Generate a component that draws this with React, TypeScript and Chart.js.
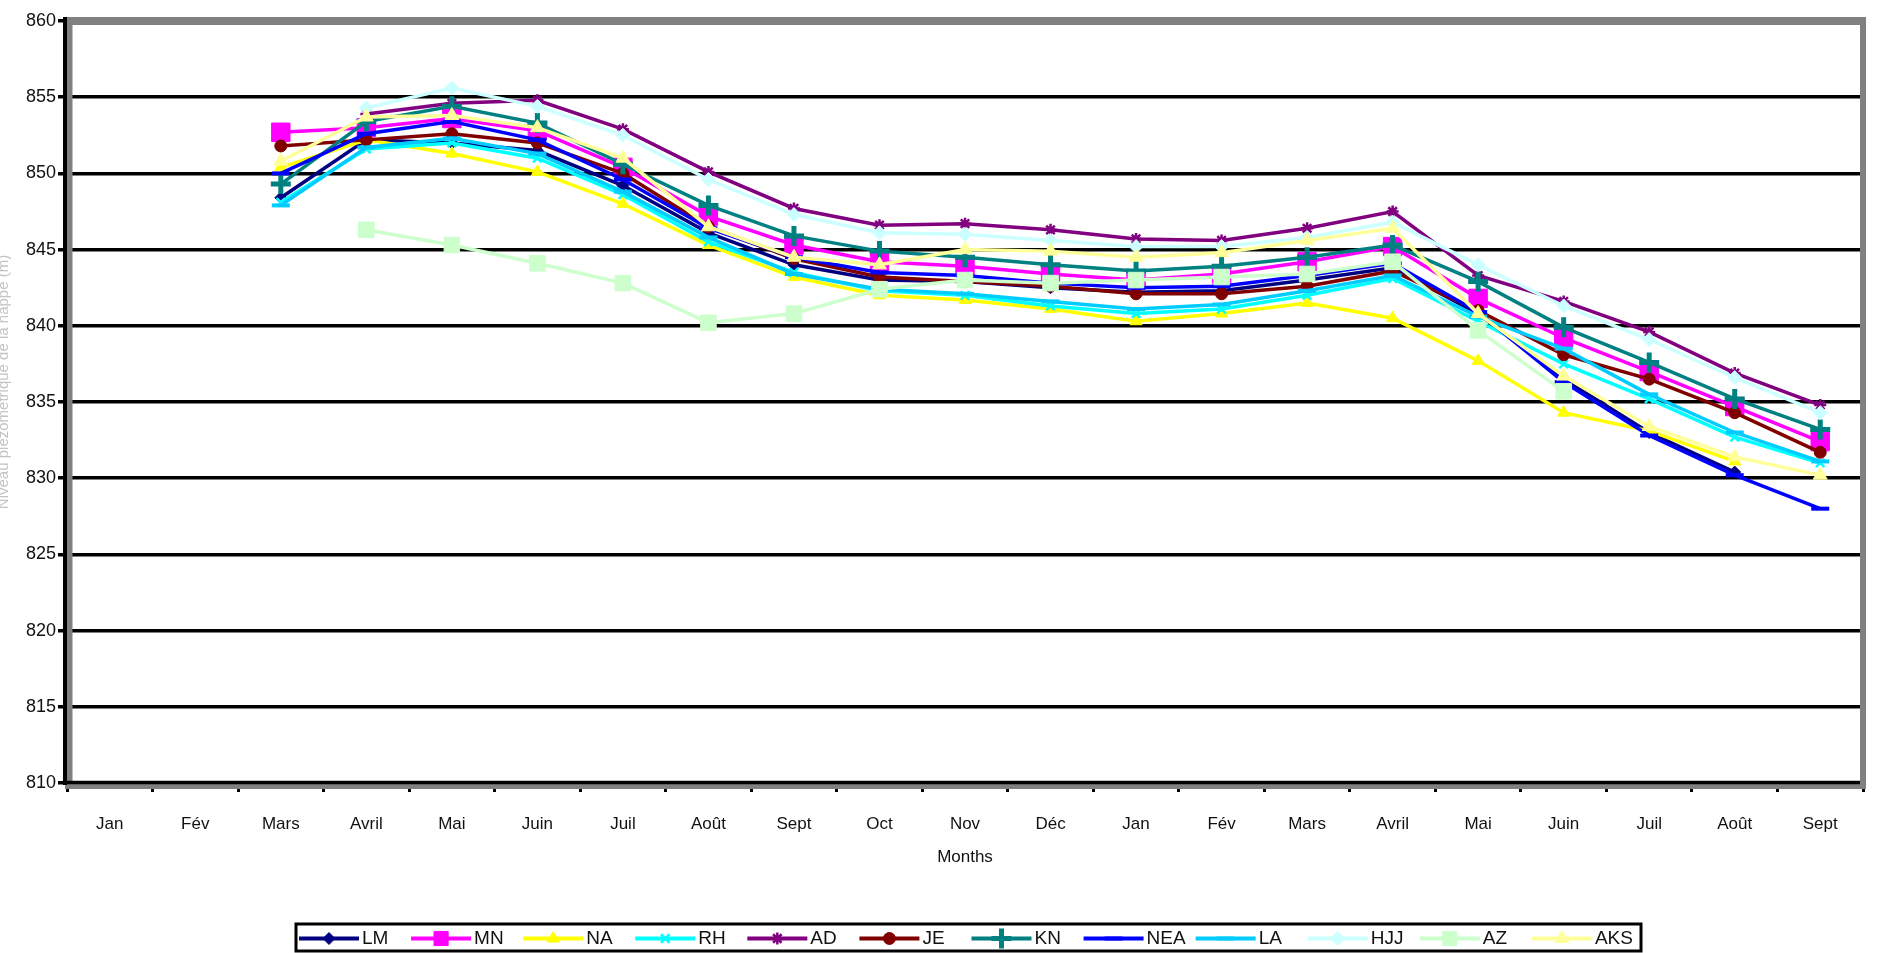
import React, { useEffect, useRef } from "react";
import { Chart, registerables } from "chart.js";
import { drawPoint } from "chart.js/helpers";

Chart.register(...registerables);

const months = ["Jan", "Fév", "Mars", "Avril", "Mai", "Juin", "Juil", "Août", "Sept", "Oct", "Nov", "Déc", "Jan", "Fév", "Mars", "Avril", "Mai", "Juin", "Juil", "Août", "Sept"];

const seriesNames = ["LM", "MN", "NA", "RH", "AD", "JE", "KN", "NEA", "LA", "HJJ", "AZ", "AKS"];

const LM = [null, null, 848.4, 852.2, 852.0, 851.5, 849.2, 846.1, 844.0, 843.0, 842.9, 842.5, 842.2, 842.3, 843.0, 843.8, 840.8, 836.5, 833.0, 830.4, null];
const MN = [null, null, 852.7, 853.0, 853.6, 852.8, 850.4, 847.2, 845.3, 844.2, 843.9, 843.4, 843.0, 843.4, 844.2, 845.2, 841.8, 839.2, 837.0, 834.7, 832.4];
const NA = [null, null, 850.4, 852.2, 851.3, 850.1, 848.0, 845.3, 843.2, 842.0, 841.7, 841.1, 840.3, 840.8, 841.5, 840.5, 837.7, 834.3, 833.1, 831.1, null];
const RH = [null, null, 848.1, 851.6, 852.0, 851.0, 848.6, 845.5, 843.5, 842.3, 842.0, 841.3, 840.8, 841.1, 842.0, 843.1, 840.3, 837.5, 835.2, 832.7, 831.0];
const AD = [null, null, null, 853.9, 854.6, 854.8, 852.9, 850.1, 847.7, 846.6, 846.7, 846.3, 845.7, 845.6, 846.4, 847.5, 843.3, 841.6, 839.6, 836.9, 834.8];
const JE = [null, null, 851.8, 852.2, 852.6, 852.0, 850.0, 846.5, 844.4, 843.2, 842.9, 842.6, 842.1, 842.1, 842.6, 843.6, 841.0, 838.1, 836.5, 834.3, 831.7];
const KN = [null, null, 849.3, 853.4, 854.4, 853.3, 850.6, 847.9, 845.9, 844.9, 844.5, 844.0, 843.6, 843.9, 844.5, 845.3, 842.9, 839.9, 837.6, 835.2, 833.2];
const NEA = [null, null, 850.0, 852.6, 853.4, 852.2, 849.6, 846.4, 844.5, 843.5, 843.3, 842.8, 842.5, 842.6, 843.3, 844.1, 840.9, 836.3, 832.8, 830.2, 828.0];
const LA = [null, null, 847.9, 851.7, 852.3, 851.3, 848.8, 845.8, 843.4, 842.4, 842.1, 841.6, 841.1, 841.4, 842.3, 843.3, 840.6, 838.5, 835.5, 833.0, 831.1];
const HJJ = [null, null, null, 854.3, 855.6, 854.4, 852.5, 849.6, 847.3, 846.1, 846.0, 845.6, 845.2, 845.2, 845.8, 846.8, 844.0, 841.3, 839.1, 836.6, 834.3];
const AZ = [null, null, null, 846.3, 845.3, 844.1, 842.8, 840.2, 840.8, 842.4, 843.0, 842.8, 843.0, 843.2, 843.4, 844.2, 839.7, 835.7, null, null, null];
const AKS = [null, null, 850.8, 853.7, 853.8, 853.0, 851.0, 846.5, 844.5, 844.0, 845.0, 844.9, 844.5, 844.8, 845.6, 846.4, 840.8, 836.7, 833.4, 831.4, 830.2];

const seriesValues = [LM, MN, NA, RH, AD, JE, KN, NEA, LA, HJJ, AZ, AKS];

const yMin = 810;
const yMax = 860;
const yStep = 5;

const xTitle = "Months";
const yTitle = "Niveau piézométrique de la nappe (m)";

const FONT = '"Liberation Sans", Arial, sans-serif';

const styles = [
  { color: "#000080", point: "rectRot", radius: 6, bw: 1 },
  { color: "#FF00FF", point: "rect", radius: 13, bw: 1 },
  { color: "#FFFF00", point: "triangle", radius: 7, bw: 1 },
  { color: "#00FFFF", point: "crossRot", radius: 6, bw: 2.5 },
  { color: "#800080", point: "star", radius: 6, bw: 2.5 },
  { color: "#800000", point: "circle", radius: 6, bw: 1 },
  { color: "#008080", point: "cross", radius: 10, bw: 5 },
  { color: "#0000FF", point: "line", radius: 9, bw: 4 },
  { color: "#00CCFF", point: "line", radius: 9, bw: 4 },
  { color: "#CCFFFF", point: "rectRot", radius: 7, bw: 1 },
  { color: "#CCFFCC", point: "rect", radius: 11, bw: 1 },
  { color: "#FFFF99", point: "triangle", radius: 8, bw: 1 },
];

const framePlugin = {
  id: "frame",
  beforeDatasetsDraw(chart: any) {
    const { ctx, chartArea } = chart;
    const { left, right, top, bottom } = chartArea;
    ctx.save();
    ctx.strokeStyle = "#808080";
    ctx.lineCap = "butt";
    ctx.lineWidth = 8;
    ctx.beginPath();
    ctx.moveTo(left - 2, top);
    ctx.lineTo(right + 3, top);
    ctx.stroke();
    ctx.lineWidth = 6;
    ctx.beginPath();
    ctx.moveTo(right, top - 4);
    ctx.lineTo(right, bottom + 6);
    ctx.stroke();
    ctx.beginPath();
    ctx.moveTo(left + 2.5, top - 4);
    ctx.lineTo(left + 2.5, bottom + 6);
    ctx.stroke();
    ctx.lineWidth = 5;
    ctx.beginPath();
    ctx.moveTo(left - 2, bottom + 3.5);
    ctx.lineTo(right + 3, bottom + 3.5);
    ctx.stroke();
    ctx.strokeStyle = "#000";
    ctx.lineWidth = 4;
    ctx.beginPath();
    ctx.moveTo(left - 2, top - 4);
    ctx.lineTo(left - 2, bottom + 2);
    ctx.stroke();
    ctx.lineWidth = 3.5;
    ctx.beginPath();
    ctx.moveTo(left - 4, bottom - 0.5);
    ctx.lineTo(right - 3, bottom - 0.5);
    ctx.stroke();
    ctx.restore();
  },
  afterDraw(chart: any) {
    const { ctx, chartArea } = chart;
    ctx.save();
    ctx.translate(4, (chartArea.top + chartArea.bottom) / 2 - 20);
    ctx.rotate(-Math.PI / 2);
    ctx.fillStyle = "#c4c4c4";
    ctx.font = `15px ${FONT}`;
    ctx.textAlign = "center";
    ctx.textBaseline = "middle";
    ctx.fillText(yTitle, 0, 0);
    ctx.restore();
  },
};

const legendPlugin = {
  id: "boxLegend",
  afterDraw(chart: any) {
    const ctx = chart.ctx;
    const x0 = 296;
    const x1 = 1641;
    const y0 = 924;
    const y1 = 951;
    const n = chart.data.datasets.length;
    const w = (x1 - x0) / n;
    const cy = (y0 + y1) / 2 + 1;
    ctx.save();
    ctx.strokeStyle = "#000";
    ctx.lineWidth = 3;
    ctx.strokeRect(x0, y0, x1 - x0, y1 - y0);
    chart.data.datasets.forEach((ds: any, i: number) => {
      const sx = x0 + i * w + 3;
      ctx.strokeStyle = ds.borderColor;
      ctx.lineWidth = 4;
      ctx.beginPath();
      ctx.moveTo(sx, cy);
      ctx.lineTo(sx + 60, cy);
      ctx.stroke();
      ctx.fillStyle = ds.pointBackgroundColor;
      ctx.strokeStyle = ds.pointBorderColor;
      ctx.lineWidth = ds.pointBorderWidth;
      drawPoint(ctx, { pointStyle: ds.pointStyle, radius: Math.min(ds.pointRadius, 10), rotation: 0, borderWidth: ds.pointBorderWidth } as any, sx + 30, cy);
      ctx.fillStyle = "#111";
      ctx.font = `19px ${FONT}`;
      ctx.textAlign = "left";
      ctx.textBaseline = "middle";
      ctx.fillText(ds.label, sx + 63, cy);
    });
    ctx.restore();
  },
};

export default function App() {
  const ref = useRef<HTMLCanvasElement | null>(null);

  useEffect(() => {
    document.body.style.margin = "0";
    const canvas = ref.current;
    if (!canvas) return;
    const n = seriesNames.length;
    const datasets = seriesNames.map((name, i) => ({
      label: name,
      data: seriesValues[i],
      borderColor: styles[i].color,
      backgroundColor: styles[i].color,
      borderWidth: 3.5,
      pointStyle: styles[i].point,
      pointRadius: styles[i].radius,
      pointBackgroundColor: styles[i].color,
      pointBorderColor: styles[i].color,
      pointBorderWidth: styles[i].bw,
      pointHoverRadius: styles[i].radius,
      tension: 0,
      spanGaps: false,
      order: n - i,
    }));

    const chart = new Chart(canvas, {
      type: "line",
      data: { labels: months, datasets: datasets as any },
      options: {
        animation: false,
        responsive: false,
        maintainAspectRatio: false,
        devicePixelRatio: 1,
        layout: { padding: { left: 0, top: 21, right: 5, bottom: 85 } },
        plugins: {
          legend: { display: false },
          tooltip: { enabled: false },
          title: { display: false },
        },
        scales: {
          x: {
            type: "category",
            offset: true,
            border: { display: false },
            grid: {
              display: true,
              drawOnChartArea: false,
              drawTicks: true,
              tickLength: 9,
              color: "#000",
              lineWidth: 3,
              offset: true,
            },
            ticks: {
              color: "#111",
              font: { family: FONT, size: 17 },
              padding: 22,
              maxRotation: 0,
              autoSkip: false,
            },
            title: {
              display: true,
              text: xTitle,
              color: "#111",
              font: { family: FONT, size: 17 },
              padding: 0,
            },
            afterFit: (s: any) => {
              s.height = 85;
            },
          },
          y: {
            min: yMin,
            max: yMax,
            border: { display: false },
            grid: { color: "#000", lineWidth: 3.5, tickLength: 9, drawTicks: true },
            ticks: {
              stepSize: yStep,
              color: "#111",
              font: { family: FONT, size: 18 },
              padding: 2,
            },
            afterFit: (s: any) => {
              s.width = 67;
            },
          },
        },
      } as any,
      plugins: [framePlugin, legendPlugin],
    });
    return () => chart.destroy();
  }, []);

  return (
    <div style={{ width: 1878, height: 953, background: "#fff" }}>
      <canvas ref={ref} width={1878} height={953} style={{ width: 1878, height: 953, display: "block" }} />
    </div>
  );
}
